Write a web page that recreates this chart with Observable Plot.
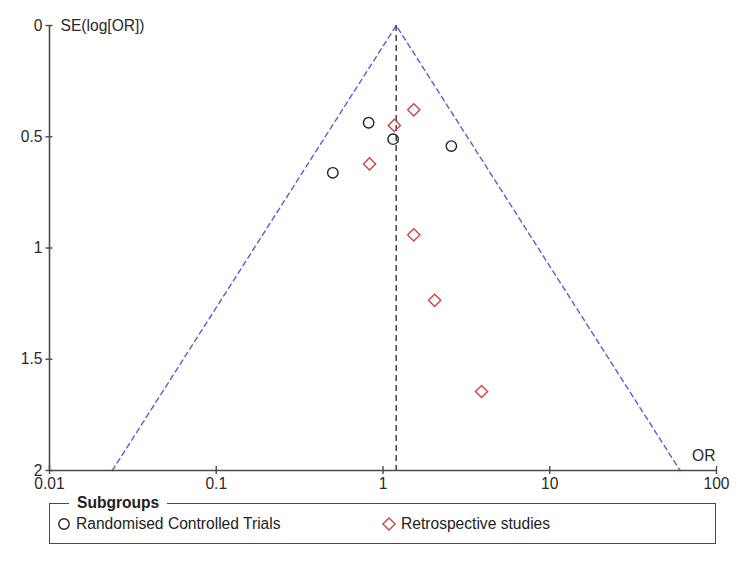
<!DOCTYPE html>
<html>
<head>
<meta charset="utf-8">
<script src="https://cdn.jsdelivr.net/npm/d3@7"></script>
<script src="https://cdn.jsdelivr.net/npm/@observablehq/plot@0.6"></script>
<style>
  html, body { margin: 0; padding: 0; background: #fff; }
  #wrap { position: relative; width: 750px; height: 562px; font-family: "Liberation Sans", Arial, sans-serif; color: #222; }
  #legend { position: absolute; left: 49px; top: 503px; width: 667px; height: 41px; box-sizing: border-box; border: 1.5px solid #4a4a4a; }
  #legend .title { position: absolute; left: 19px; top: -10px; background: #fff; padding: 0 8px; font-weight: bold; font-size: 15.6px; line-height: 18px; }
  #legend .item { position: absolute; top: 11px; display: flex; align-items: center; font-size: 15.6px; line-height: 18px; }
  #legend .item svg { margin-right: 4px; }
</style>
</head>
<body>
<div id="wrap"><div id="chart"></div><div id="legend"></div></div>
<script>
// Pooled odds ratio (apex of the funnel)
const pooledOR = 1.2;

// Randomised controlled trials
const rctOR = [0.82, 1.15, 2.57, 0.50];
const rctSE = [0.437, 0.511, 0.542, 0.662];

// Retrospective studies
const retroOR = [1.53, 1.17, 0.83, 1.53, 2.04, 3.90];
const retroSE = [0.379, 0.449, 0.622, 0.941, 1.235, 1.645];

const groups = ["Randomised Controlled Trials", "Retrospective studies"];
const groupSymbols = ["circle", "diamond2"];
const groupColors = ["#222222", "#cc4444"];

const seTicks = [0, 0.5, 1, 1.5, 2];
const orTicks = [0.01, 0.1, 1, 10, 100];
const seMax = 2;

const rct = rctOR.map((or, i) => ({or, se: rctSE[i]}));
const retro = retroOR.map((or, i) => ({or, se: retroSE[i]}));

// 95% pseudo-confidence limits around the pooled estimate
const funnel = [
  {or: pooledOR * Math.exp(-1.96 * seMax), se: seMax},
  {or: pooledOR, se: 0},
  {or: pooledOR * Math.exp(1.96 * seMax), se: seMax}
];

const chart = Plot.plot({
  width: 750,
  height: 495,
  marginLeft: 49,
  marginRight: 34,
  marginTop: 25,
  marginBottom: 25,
  x: {type: "log", domain: [0.01, 100]},
  y: {domain: [0, seMax], reverse: true},
  style: {fontFamily: "'Liberation Sans', Arial, sans-serif", fontSize: "15.6px", color: "#2a2a2a", background: "#fff"},
  marks: [
    Plot.line(funnel, {x: "or", y: "se", stroke: "#5c5cd0", strokeWidth: 1.4, strokeDasharray: "5,4"}),
    Plot.ruleX([pooledOR], {stroke: "#333", strokeWidth: 1.4, strokeDasharray: "6,4"}),
    Plot.ruleX([0.01], {stroke: "#4a4a4a", strokeWidth: 1.6}),
    Plot.ruleY([seMax], {stroke: "#4a4a4a", strokeWidth: 1.6}),
    Plot.axisY({ticks: seTicks, tickSize: 7, dx: 3.5, tickPadding: 3.5, label: null, tickFormat: d => String(d), stroke: "#4a4a4a", strokeWidth: 1.4}),
    Plot.axisX({ticks: orTicks, tickSize: 8, dy: -4, tickPadding: 3, label: null, tickFormat: d => String(d), stroke: "#4a4a4a", strokeWidth: 1.4}),
    Plot.dot(rct, {x: "or", y: "se", r: 5.2, symbol: groupSymbols[0], stroke: groupColors[0], strokeWidth: 1.4, fill: "none"}),
    Plot.dot(retro, {x: "or", y: "se", r: 5.5, symbol: groupSymbols[1], stroke: groupColors[1], strokeWidth: 1.4, fill: "none"}),
    Plot.text(["SE(log[OR])"], {frameAnchor: "top-left", dx: 11, textAnchor: "start", lineAnchor: "middle"}),
    Plot.text(["OR"], {frameAnchor: "bottom-right", dx: -1, dy: -15, textAnchor: "end", lineAnchor: "middle"})
  ]
});
document.getElementById("chart").appendChild(chart);

// Subgroup legend box
const legend = document.getElementById("legend");
const title = document.createElement("span");
title.className = "title";
title.textContent = "Subgroups";
legend.appendChild(title);
const itemLeft = [6, 331];
groups.forEach((name, i) => {
  const item = document.createElement("div");
  item.className = "item";
  item.style.left = itemLeft[i] + "px";
  const sw = d3.create("svg").attr("width", 16).attr("height", 16);
  const sym = groupSymbols[i] === "circle" ? d3.symbolCircle : d3.symbolDiamond2;
  const size = groupSymbols[i] === "circle" ? Math.PI * 5.2 * 5.2 : Math.PI * 5.5 * 5.5;
  sw.append("path")
    .attr("transform", "translate(8,8)")
    .attr("d", d3.symbol(sym, size)())
    .attr("fill", "none")
    .attr("stroke", groupColors[i])
    .attr("stroke-width", 1.4);
  item.appendChild(sw.node());
  const label = document.createElement("span");
  label.textContent = name;
  item.appendChild(label);
  legend.appendChild(item);
});
</script>
</body>
</html>
